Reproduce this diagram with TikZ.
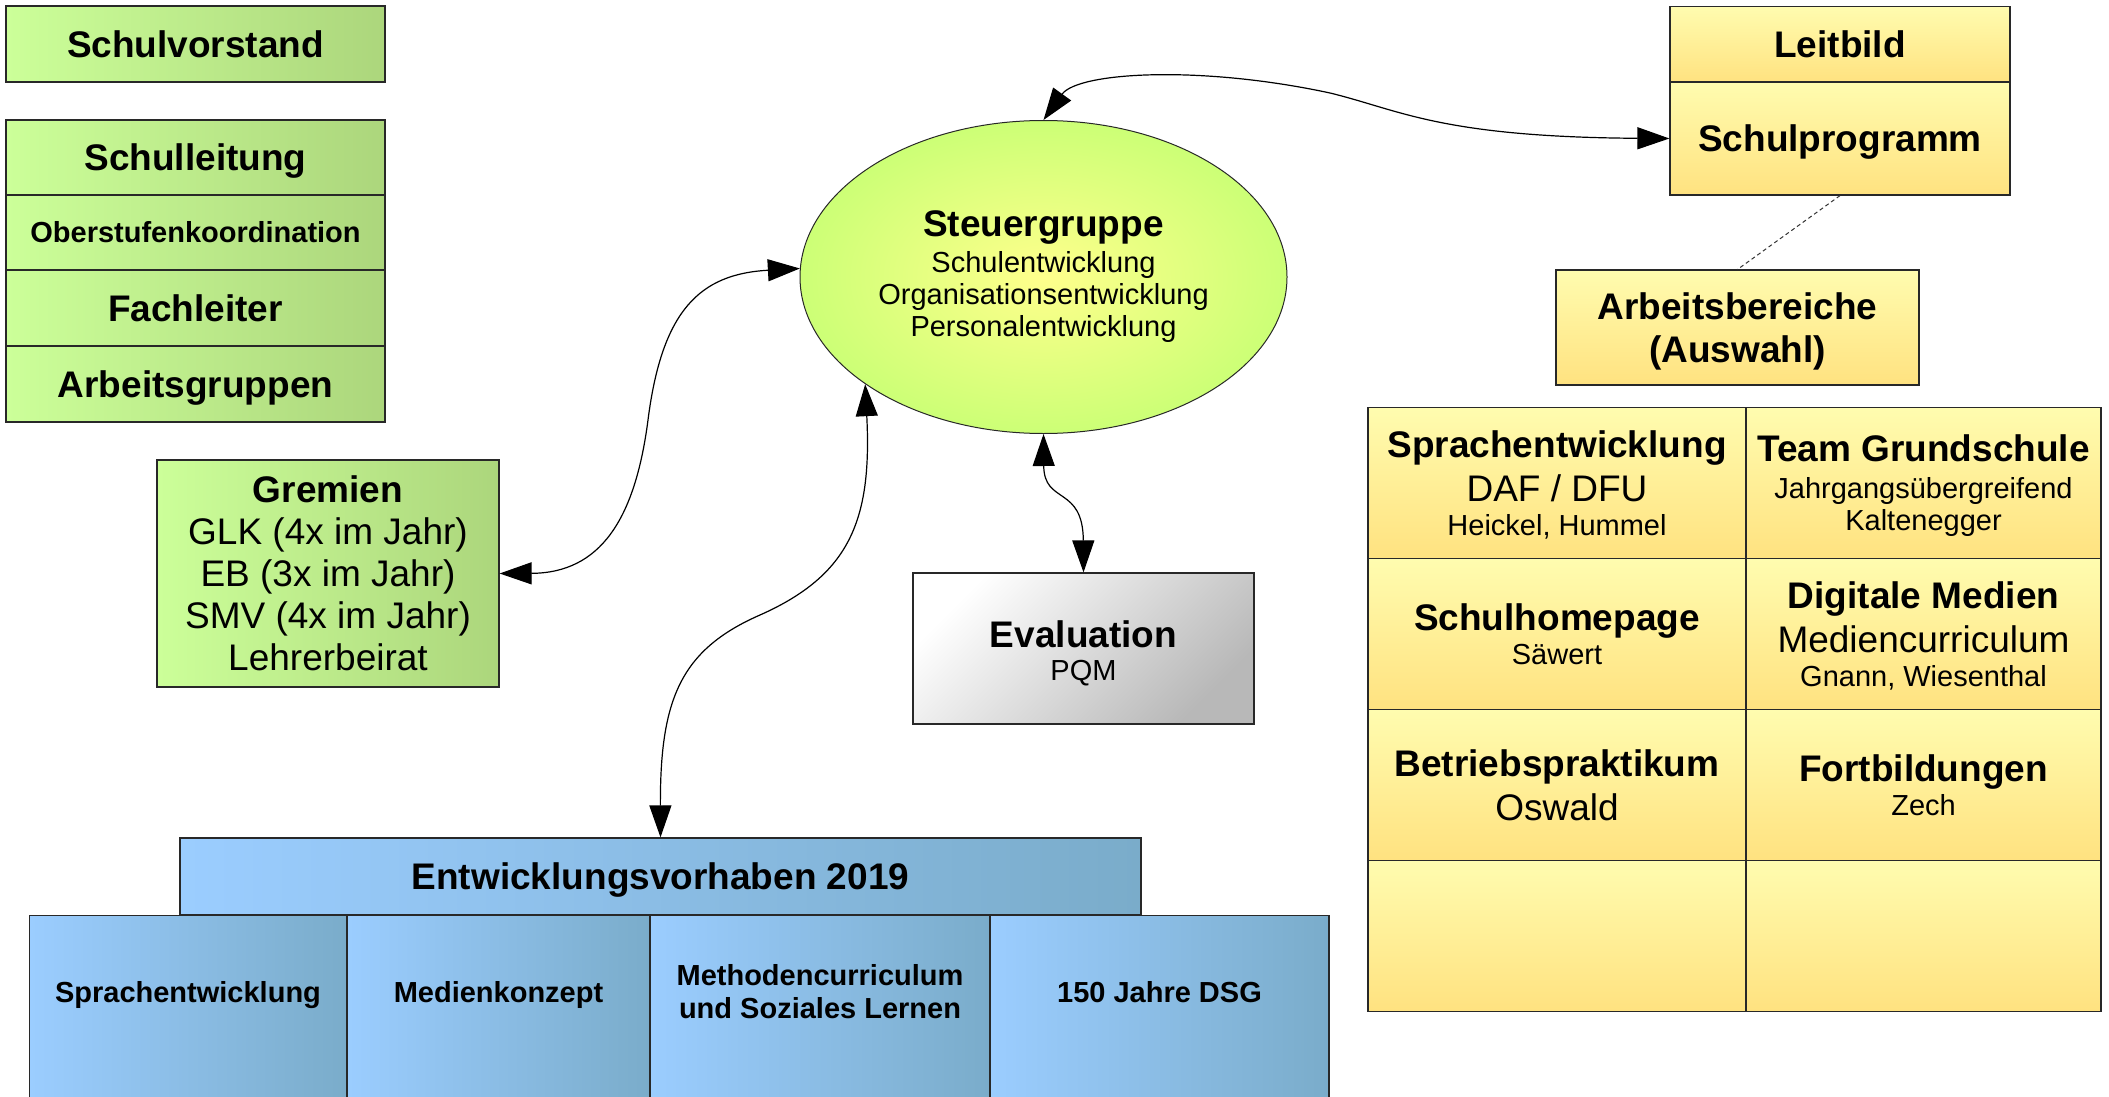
\documentclass[tikz,border=0pt]{standalone}
\usepackage{fontspec}
\setmainfont{Liberation Sans}
\usetikzlibrary{arrows.meta,shapes.geometric}
\definecolor{grL}{RGB}{204,255,153}
\definecolor{grR}{RGB}{172,214,124}
\definecolor{blL}{RGB}{155,205,255}
\definecolor{blR}{RGB}{122,172,202}
\definecolor{yeT}{RGB}{255,252,175}
\definecolor{yeB}{RGB}{255,226,128}
\definecolor{elIn}{RGB}{255,255,140}
\definecolor{elOut}{RGB}{204,255,118}
\definecolor{bord}{RGB}{40,40,40}
\newcommand\FontL{\fontsize{37}{42}\selectfont}
\newcommand\FontS{\fontsize{29}{34}\selectfont}
\begin{document}
\begin{tikzpicture}[x=1pt,y=-1pt,
  bx/.style={draw=bord, line width=1.2pt, inner sep=0pt, align=center},
  greenbox/.style={bx, left color=grL, right color=grR},
  bluebox/.style={bx, left color=blL, right color=blR},
  yelbox/.style={bx, top color=yeT, bottom color=yeB},
  gridcell/.style={yelbox, font=\FontS, text depth=0pt, minimum height=151pt},
  capline/.style={text height=26.5pt, text depth=0pt, font=\FontL\bfseries},
  smallcap/.style={text height=20.8pt, text depth=0pt, font=\FontS\bfseries},
  conn/.style={line width=1.2pt, black, {Triangle[length=32pt,width=22pt]}-{Triangle[length=32pt,width=22pt]}},
  dashconn/.style={line width=1pt, black!80, dash pattern=on 4pt off 3pt}
]
\useasboundingbox (0,0) rectangle (2109,1097);
\fill[white] (0,0) rectangle (2109,1097);

% left column
\node[greenbox, capline, minimum width=379pt, minimum height=76pt] (vorstand) at (195.5,44) {Schulvorstand};
\node[greenbox, capline, minimum width=379pt, minimum height=75pt] (leitung) at (195.5,157.5) {Schulleitung};
\node[greenbox, smallcap, minimum width=379pt, minimum height=75pt] (ober) at (195.5,232.5) {Oberstufenkoordination};
\node[greenbox, capline, minimum width=379pt, minimum height=76pt] (fach) at (195.5,308) {Fachleiter};
\node[greenbox, capline, minimum width=379pt, minimum height=76pt] (ag) at (195.5,384) {Arbeitsgruppen};

\node[greenbox, font=\FontL, minimum width=342pt, minimum height=227pt] (gremien) at (328,573.5)
  {\textbf{Gremien}\\GLK (4x im Jahr)\\EB (3x im Jahr)\\SMV (4x im Jahr)\\Lehrerbeirat};

% centre
\node[ellipse, draw=bord, line width=1pt, inner color=elIn, outer color=elOut,
  minimum width=487pt, minimum height=313pt, inner sep=0pt, align=center,
  font=\fontsize{29}{32}\selectfont] (ell) at (1043.5,277)
  {{\bfseries\FontL Steuergruppe}\\[4pt]Schulentwicklung\\Organisationsentwicklung\\Personalentwicklung};

\node[bx, top color=white, bottom color=black!28, shading angle=45,
  minimum width=341pt, minimum height=151pt, font=\fontsize{29}{33}\selectfont,
  text height=64pt, text depth=0pt] (eval) at (1083.5,648.5)
  {{\bfseries\FontL Evaluation}\\PQM};

% bottom
\node[bluebox, capline, minimum width=961pt, minimum height=77pt] (entw) at (660.5,876.5) {Entwicklungsvorhaben 2019};
\node[bluebox, anchor=north, minimum width=317pt, minimum height=195pt, font=\fontsize{29}{33}\selectfont\bfseries,
  text height=20.8pt, text depth=43pt] (b1) at (188,915) {Sprachentwicklung};
\node[bluebox, anchor=north, minimum width=303pt, minimum height=195pt, font=\fontsize{29}{33}\selectfont\bfseries,
  text height=20.8pt, text depth=43pt] (b2) at (498.5,915) {Medienkonzept};
\node[bluebox, anchor=north, minimum width=340pt, minimum height=195pt, font=\fontsize{29}{33}\selectfont\bfseries,
  text height=20.8pt, text depth=10.4pt] (b3) at (820,915) {Methodencurriculum\\und Soziales Lernen};
\node[bluebox, anchor=north, minimum width=339pt, minimum height=195pt, font=\fontsize{29}{33}\selectfont\bfseries,
  text height=20.8pt, text depth=43pt] (b4) at (1159.5,915) {150 Jahre DSG};

% right
\node[yelbox, capline, minimum width=340pt, minimum height=75.5pt] (leitbild) at (1840,44.3) {Leitbild};
\node[yelbox, capline, minimum width=340pt, minimum height=113pt] (schulprog) at (1840,138.5) {Schulprogramm};
\node[yelbox, font=\fontsize{37}{43}\selectfont\bfseries, text depth=0pt, minimum width=363pt, minimum height=115pt] (arbeits) at (1737.5,327.5)
  {Arbeitsbereiche\\(Auswahl)};

\node[gridcell, minimum width=378pt] (g11) at (1557,483)
  {{\bfseries\FontL Sprachentwicklung}\\[8pt]{\FontL DAF / DFU}\\Heickel, Hummel};
\node[gridcell, minimum width=355pt, font=\fontsize{29}{32}\selectfont] (g12) at (1923.5,483)
  {{\bfseries\FontL Team Grundschule}\\[5pt]Jahrgangsübergreifend\\Kaltenegger};
\node[gridcell, minimum width=378pt] (g21) at (1557,634)
  {{\bfseries\FontL Schulhomepage}\\Säwert};
\node[gridcell, minimum width=355pt] (g22) at (1923.5,634)
  {{\bfseries\FontL Digitale Medien}\\[8pt]{\FontL Mediencurriculum}\\Gnann, Wiesenthal};
\node[gridcell, minimum width=378pt] (g31) at (1557,785)
  {{\bfseries\FontL Betriebspraktikum}\\[8pt]{\FontL Oswald}};
\node[gridcell, minimum width=355pt] (g32) at (1923.5,785)
  {{\bfseries\FontL Fortbildungen}\\Zech};
\node[gridcell, minimum width=378pt] (g41) at (1557,936) {};
\node[gridcell, minimum width=355pt] (g42) at (1923.5,936) {};

% connectors
\draw[conn] (ell.north) .. controls (1078,72) and (1200,65) .. (1330,93)
  .. controls (1400,110) and (1440,137) .. (schulprog.west);
\draw[conn] (gremien.east) .. controls (600,573) and (635,520) .. (648,420)
  .. controls (662,310) and (700,274) .. (ell.178);
\draw[conn] (entw.north) .. controls (660,700) and (680,650) .. (760,615)
  .. controls (850,575) and (872,520) .. (ell.211);
\draw[conn] (ell.south) .. controls (1044,505) and (1083,485) .. (eval.north);
\draw[dashconn] (schulprog.south) -- (arbeits.north);
\end{tikzpicture}
\end{document}
